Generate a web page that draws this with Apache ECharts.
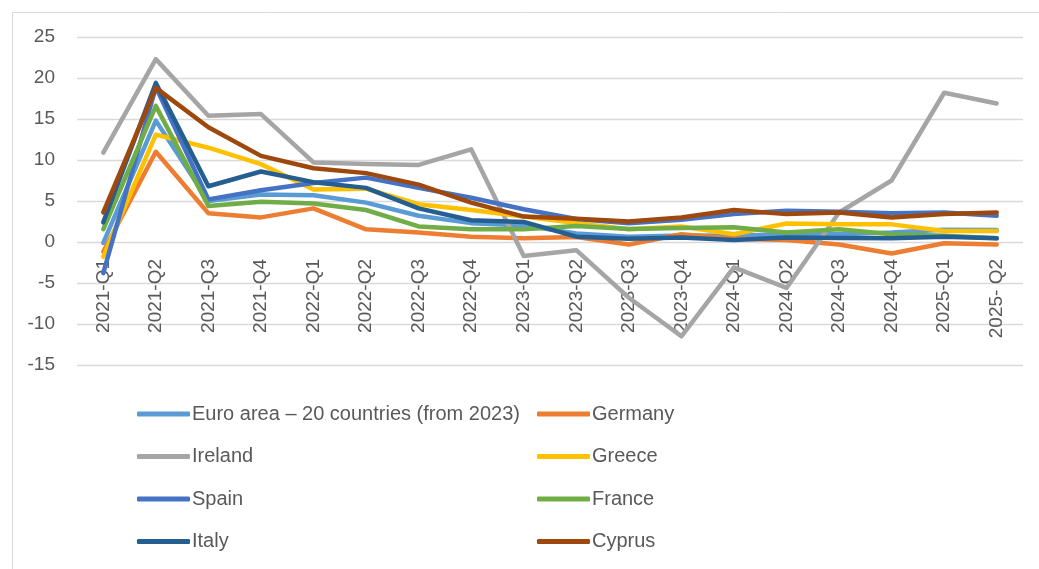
<!DOCTYPE html>
<html>
<head>
<meta charset="utf-8">
<script src="https://cdn.jsdelivr.net/npm/echarts@6/dist/echarts.min.js"></script>
<style>
html,body{margin:0;padding:0;background:#fff;}
#chart{width:1039px;height:569px;}
</style>
</head>
<body>
<div id="chart"></div>
<script>
const categories = ['2021-Q1','2021-Q2','2021-Q3','2021-Q4','2022-Q1','2022-Q2','2022-Q3','2022-Q4','2023-Q1','2023-Q2','2023-Q3','2023-Q4','2024-Q1','2024-Q2','2024-Q3','2024-Q4','2025-Q1','2025- Q2'];

const euroArea = [-0.1, 14.8, 5.0, 5.8, 5.7, 4.8, 3.2, 2.3, 2.0, 1.05, 0.65, 0.8, 0.75, 0.95, 0.95, 1.15, 1.5, 1.45];
const germany  = [-1.2, 11.0, 3.5, 3.0, 4.1, 1.55, 1.15, 0.65, 0.45, 0.6, -0.3, 0.95, 0.4, 0.25, -0.3, -1.4, -0.15, -0.3];
const ireland  = [10.9, 22.3, 15.4, 15.6, 9.7, 9.5, 9.4, 11.3, -1.7, -1.0, -6.8, -11.5, -3.1, -5.6, 3.6, 7.5, 18.2, 16.9];
const greece   = [-1.8, 13.1, 11.5, 9.5, 6.4, 6.5, 4.6, 3.9, 3.1, 2.3, 1.55, 1.9, 0.95, 2.25, 2.15, 2.15, 1.35, 1.35];
const spain    = [-3.8, 18.9, 5.2, 6.3, 7.2, 7.85, 6.6, 5.4, 4.0, 2.8, 2.3, 2.7, 3.4, 3.8, 3.7, 3.5, 3.6, 3.2];
const france   = [1.55, 16.6, 4.4, 4.9, 4.7, 3.9, 1.9, 1.55, 1.55, 1.95, 1.6, 1.7, 1.8, 1.15, 1.55, 0.95, 0.75, 0.45];
const italy    = [2.4, 19.4, 6.8, 8.6, 7.3, 6.6, 4.1, 2.65, 2.45, 0.65, 0.4, 0.55, 0.25, 0.55, 0.5, 0.45, 0.65, 0.45];
const cyprus   = [3.6, 18.8, 14.0, 10.5, 9.0, 8.4, 7.0, 4.8, 3.1, 2.85, 2.5, 3.0, 3.9, 3.4, 3.6, 3.0, 3.4, 3.6];

const seriesNames = ['Euro area – 20 countries (from 2023)','Germany','Ireland','Greece','Spain','France','Italy','Cyprus'];
const seriesData = [euroArea, germany, ireland, greece, spain, france, italy, cyprus];
const colors = ['#5B9BD5','#ED7D31','#A5A5A5','#FFC000','#4472C4','#70AD47','#255E91','#9E480E'];
const yTicks = [-15, 25, 5];

const FONT = '"Liberation Sans", Arial, sans-serif';
const chart = echarts.init(document.getElementById('chart'), null, {renderer:'canvas'});

const GRID_TOP = 37, GRID_BOTTOM = 204, CHART_H = 569;
const plotH = CHART_H - GRID_TOP - GRID_BOTTOM;
// distance from the bottom of the plot to the value 0 (so category labels sit at the zero line, as in the original)
const zeroOffset = plotH * (0 - yTicks[0]) / (yTicks[1] - yTicks[0]);

const legendCommon = {
  orient: 'vertical',
  top: 404,
  padding: 0,
  itemWidth: 53,
  itemHeight: 5,
  itemGap: 22.5,
  icon: 'roundRect',
  textStyle: {fontFamily: FONT, fontSize: 20, color: '#595959', lineHeight: 20, padding: [0,0,0,-3]},
  selectedMode: false
};

chart.setOption({
  animation: false,
  backgroundColor: '#ffffff',
  color: colors,
  graphic: [{
    type: 'rect', left: 10, top: 10,
    shape: {width: 1100, height: 700},
    style: {fill: 'none', stroke: '#D9D9D9', lineWidth: 1}
  }],
  grid: {left: 77, right: 16, top: GRID_TOP, bottom: GRID_BOTTOM},
  legend: [
    Object.assign({left: 137, data: [seriesNames[0], seriesNames[2], seriesNames[4], seriesNames[6]]}, legendCommon),
    Object.assign({left: 537, data: [seriesNames[1], seriesNames[3], seriesNames[5], seriesNames[7]]}, legendCommon)
  ],
  xAxis: {
    type: 'category',
    data: categories,
    boundaryGap: true,
    offset: -zeroOffset,
    axisLine: {show: false, onZero: false},
    axisTick: {show: false},
    axisLabel: {rotate: 90, margin: 17, fontFamily: FONT, fontSize: 19, color: '#595959', interval: 0}
  },
  yAxis: {
    type: 'value',
    min: yTicks[0], max: yTicks[1], interval: yTicks[2],
    axisLine: {show: false},
    axisTick: {show: false},
    splitLine: {lineStyle: {color: '#D9D9D9', width: 1.3}},
    axisLabel: {margin: 22, fontFamily: FONT, fontSize: 19, color: '#595959'}
  },
  series: seriesNames.map((n, i) => ({
    name: n,
    type: 'line',
    data: seriesData[i],
    symbol: 'none',
    lineStyle: {width: 4.5, color: colors[i], cap: 'round', join: 'round'},
    itemStyle: {color: colors[i]},
    z: 2 + i
  }))
});
</script>
</body>
</html>
